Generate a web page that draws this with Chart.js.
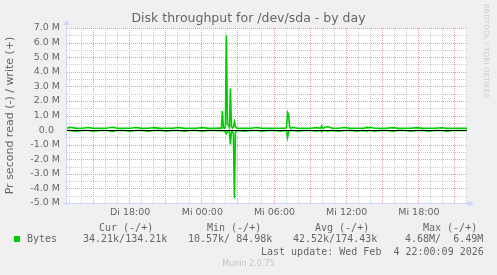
<!DOCTYPE html>
<html>
<head>
<meta charset="utf-8">
<script src="https://cdn.jsdelivr.net/npm/chart.js@4.4.0/dist/chart.umd.min.js"></script>
<style>
  body { margin: 0; background: #f0f0f0; }
  #wrap { position: relative; width: 497px; height: 275px; overflow: hidden; }
  canvas { position: absolute; left: 0; top: 0; }
  .t { position: absolute; white-space: pre; font: 10px "DejaVu Sans Mono", monospace; color: #666; line-height: 12px; }
</style>
</head>
<body>
<div id="wrap">
  <canvas id="grafico" width="497" height="275"></canvas>
  <div class="t" style="left:99px;top:222px">Cur (-/+)</div>
  <div class="t" style="left:207px;top:222px">Min (-/+)</div>
  <div class="t" style="left:315px;top:222px">Avg (-/+)</div>
  <div class="t" style="left:423px;top:222px">Max (-/+)</div>
  <div style="position:absolute;left:14px;top:236px;width:6px;height:6px;background:#00cc00"></div>
  <div class="t" style="left:27px;top:233px">Bytes</div>
  <div class="t" style="left:83px;top:233px">34.21k/134.21k</div>
  <div class="t" style="left:188px;top:233px">10.57k/ 84.98k</div>
  <div class="t" style="left:293px;top:233px">42.52k/174.43k</div>
  <div class="t" style="left:405px;top:233px">4.68M/  6.49M</div>
  <div class="t" style="left:261px;top:246px">Last update: Wed Feb  4 22:00:09 2026</div>
  <div style="position:absolute;left:0;width:497px;top:259px;text-align:center;font:8px 'DejaVu Sans';color:#c4c4c4">Munin 2.0.75</div>
  <div style="position:absolute;left:482px;top:4px;writing-mode:vertical-rl;font:7px 'DejaVu Sans';color:#cccccc;letter-spacing:0.2px">RRDTOOL / TOBI OETIKER</div>
</div>
<script>
// minutes relative to Di 18:00, values in MB/s (read drawn negative)
const timeMin = [
  -315, -300, -270, -240, -210, -180, -150, -120, -90, -60,
  -30, 0, 30, 60, 90, 120, 150, 180, 210, 240,
  270, 300, 330, 360, 390, 420, 450, 455, 460, 465,
  470, 475, 480, 485, 490, 495, 500, 505, 510, 515,
  520, 525, 530, 540, 570, 600, 630, 660, 690, 720,
  750, 775, 780, 785, 790, 795, 800, 810, 840, 870,
  900, 930, 950, 955, 960, 975, 985, 995, 1010, 1040,
  1070, 1100, 1130, 1160, 1175, 1180, 1185, 1195, 1220, 1250,
  1280, 1310, 1340, 1370, 1400, 1430, 1460, 1490, 1520, 1550,
  1580, 1610, 1640, 1680
];
const writeM = [
  0.13, 0.19, 0.12, 0.13, 0.18, 0.12, 0.13, 0.13, 0.19, 0.12,
  0.13, 0.13, 0.18, 0.12, 0.13, 0.17, 0.12, 0.13, 0.13, 0.18,
  0.12, 0.13, 0.13, 0.17, 0.12, 0.13, 0.14, 0.13, 1.30, 0.15,
  0.12, 0.25, 6.50, 0.40, 0.35, 0.20, 2.85, 0.25, 0.15, 0.20,
  0.57, 0.25, 0.14, 0.13, 0.12, 0.13, 0.18, 0.12, 0.13, 0.13,
  0.13, 0.13, 0.20, 1.20, 1.05, 0.25, 0.13, 0.18, 0.12, 0.13,
  0.13, 0.17, 0.13, 0.27, 0.13, 0.20, 0.23, 0.20, 0.13, 0.13,
  0.18, 0.12, 0.13, 0.13, 0.15, 0.21, 0.14, 0.19, 0.13, 0.12,
  0.13, 0.17, 0.12, 0.13, 0.13, 0.17, 0.12, 0.13, 0.13, 0.16,
  0.12, 0.13, 0.13, 0.13
];
const readM = [
  -0.03, -0.03, -0.08, -0.03, -0.03, -0.07, -0.03, -0.03, -0.08, -0.03,
  -0.03, -0.07, -0.03, -0.03, -0.08, -0.03, -0.03, -0.07, -0.03, -0.03,
  -0.08, -0.03, -0.03, -0.07, -0.03, -0.03, -0.04, -0.03, -0.05, -0.03,
  -0.05, -0.15, -0.25, -0.10, -0.05, -0.20, -0.98, -0.10, -0.05, -0.30,
  -4.68, -0.15, -0.05, -0.03, -0.08, -0.03, -0.03, -0.07, -0.03, -0.03,
  -0.08, -0.03, -0.05, -0.50, -0.15, -0.05, -0.03, -0.03, -0.07, -0.03,
  -0.03, -0.08, -0.03, -0.10, -0.03, -0.05, -0.08, -0.04, -0.03, -0.07,
  -0.03, -0.03, -0.08, -0.03, -0.05, -0.08, -0.03, -0.03, -0.07, -0.03,
  -0.03, -0.08, -0.03, -0.03, -0.07, -0.03, -0.03, -0.08, -0.03, -0.03,
  -0.07, -0.03, -0.03, -0.03
];
const xLabelTimes = [0, 360, 720, 1080, 1440];
const xLabels = ['Di 18:00', 'Mi 00:00', 'Mi 06:00', 'Mi 12:00', 'Mi 18:00'];

const verde = '#00cc00';
const gris = '#cdcdcd';
const rojo = '#e49c9c';

// fondo blanco, rejilla punteada (como rrdtool), linea cero y ejes con flechas
const fondoYEjes = {
  id: 'fondoYEjes',
  beforeDatasetsDraw(chart) {
    const { ctx, chartArea: a, scales } = chart;
    const L = Math.round(a.left), R = Math.round(a.right);
    const T = Math.round(a.top), B = Math.round(a.bottom);
    ctx.save();
    ctx.fillStyle = '#ffffff';
    ctx.fillRect(L, T, R - L, B - T);
    scales.x.ticks.forEach(t => {
      const px = Math.round(scales.x.getPixelForValue(t.value)) - 1;
      ctx.fillStyle = t.value % 180 === 0 ? rojo : gris;
      for (let y = B - 1; y >= T; y -= 2) ctx.fillRect(px, y, 1, 1);
    });
    scales.y.ticks.forEach(t => {
      const py = Math.round(scales.y.getPixelForValue(t.value));
      ctx.fillStyle = Number.isInteger(t.value) ? rojo : gris;
      for (let x = L; x < R; x += 2) ctx.fillRect(x, py, 1, 1);
    });
    ctx.restore();
  },
  afterDatasetsDraw(chart) {
    const { ctx, chartArea: a, scales } = chart;
    const y0 = Math.round(scales.y.getPixelForValue(0)) + 0.5;
    ctx.save();
    ctx.strokeStyle = '#000000';
    ctx.lineWidth = 1;
    ctx.beginPath();
    ctx.moveTo(a.left, y0);
    ctx.lineTo(a.right, y0);
    ctx.stroke();
    ctx.strokeStyle = '#cfd6f8';
    ctx.fillStyle = '#cfd6f8';
    ctx.beginPath();
    ctx.moveTo(a.left - 0.5, a.bottom + 2);
    ctx.lineTo(a.left - 0.5, a.top - 5);
    ctx.moveTo(a.left - 3, a.bottom + 0.5);
    ctx.lineTo(a.right + 3, a.bottom + 0.5);
    ctx.stroke();
    ctx.beginPath();
    ctx.moveTo(a.left - 3.5, a.top - 3);
    ctx.lineTo(a.left + 2.5, a.top - 3);
    ctx.lineTo(a.left - 0.5, a.top - 9);
    ctx.closePath();
    ctx.fill();
    ctx.beginPath();
    ctx.moveTo(a.right + 1, a.bottom - 2.5);
    ctx.lineTo(a.right + 1, a.bottom + 3.5);
    ctx.lineTo(a.right + 7, a.bottom + 0.5);
    ctx.closePath();
    ctx.fill();
    ctx.restore();
  }
};

const ctx = document.getElementById('grafico').getContext('2d');
new Chart(ctx, {
  type: 'line',
  data: {
    datasets: [
      {
        label: 'write',
        data: timeMin.map((t, i) => ({ x: t, y: writeM[i] })),
        borderColor: verde,
        borderWidth: 1.6,
        pointRadius: 0,
        tension: 0,
        fill: false
      },
      {
        label: 'read',
        data: timeMin.map((t, i) => ({ x: t, y: readM[i] })),
        borderColor: verde,
        borderWidth: 1.6,
        pointRadius: 0,
        tension: 0,
        fill: false
      }
    ]
  },
  options: {
    responsive: false,
    animation: false,
    layout: { padding: 0 },
    plugins: {
      legend: { display: false },
      tooltip: { enabled: false },
      title: {
        display: true,
        text: 'Disk throughput for /dev/sda - by day',
        color: '#666666',
        font: { family: 'DejaVu Sans', size: 12.5, weight: 'normal' },
        padding: { top: 11, bottom: 2 }
      }
    },
    scales: {
      x: {
        type: 'linear',
        min: -315,
        max: 1680,
        afterBuildTicks: (s) => {
          const t = [];
          for (let v = -300; v <= 1680; v += 60) t.push({ value: v });
          s.ticks = t;
        },
        afterFit: (s) => { s.height = 72; },
        grid: { display: false, drawTicks: false },
        border: { display: false },
        ticks: {
          autoSkip: false,
          maxRotation: 0,
          padding: 4,
          color: '#666666',
          font: { family: 'DejaVu Sans', size: 9.5 },
          callback: (v) => {
            const i = xLabelTimes.indexOf(v);
            return i >= 0 ? xLabels[i] : '';
          }
        }
      },
      y: {
        min: -5,
        max: 7,
        afterBuildTicks: (s) => {
          const t = [];
          for (let v = -5; v <= 7.001; v += 0.5) t.push({ value: Math.round(v * 10) / 10 });
          s.ticks = t;
        },
        afterFit: (s) => { s.width = 67; },
        grid: { display: false, drawTicks: false },
        border: { display: false },
        title: {
          display: true,
          text: 'Pr second read (-) / write (+)',
          color: '#666666',
          font: { family: 'DejaVu Sans', size: 11 },
          padding: { top: 4, bottom: 0 }
        },
        ticks: {
          autoSkip: false,
          padding: 7,
          color: '#666666',
          font: { family: 'DejaVu Sans', size: 9.5 },
          callback: (v) => {
            if (!Number.isInteger(v)) return '';
            if (v === 0) return '0.0  ';
            return v.toFixed(1) + ' M';
          }
        }
      },
      derecha: {
        position: 'right',
        min: -5,
        max: 7,
        afterFit: (s) => { s.width = 30; },
        grid: { display: false, drawTicks: false },
        border: { display: false },
        ticks: { display: false }
      }
    }
  },
  plugins: [fondoYEjes]
});
</script>
</body>
</html>
